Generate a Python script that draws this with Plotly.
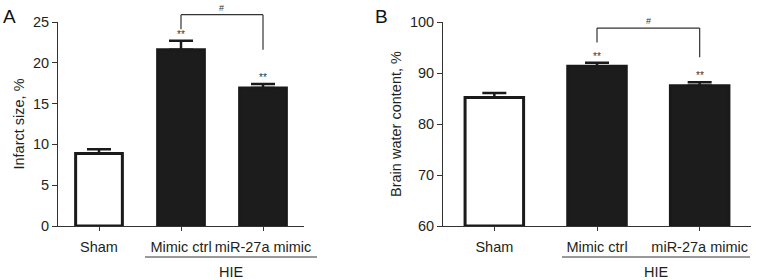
import plotly.graph_objects as go

# ---- data ----
categories = ["Sham", "Mimic ctrl", "miR-27a mimic"]
infarct_mean = [8.9, 21.6, 16.9]
infarct_err = [0.5, 1.1, 0.5]
water_mean = [85.2, 91.3, 87.5]
water_err = [0.9, 0.7, 0.7]
infarct_stars = ["", "**", "**"]
water_stars = ["", "**", "**"]
# bracket levels (data units): top, left-leg end, right-leg end
infarct_bracket = [25.9, 24.1, 21.6]
water_bracket = [98.8, 96.0, 93.1]
group_label = "HIE"

W, H = 763, 280
ydom = [1 - 226 / H, 1 - 22 / H]
xdomA = [58 / W, 304 / W]
xdomB = [443 / W, 751 / W]
xr = [-0.5, 2.5]
yrA = [0, 25]
yrB = [60, 100]
txt = "#231f20"
FONT = "Liberation Sans, Arial, sans-serif"
FS = 14.5

fig = go.Figure()


def px_x(dom, v):
    return dom[0] + (v - xr[0]) / (xr[1] - xr[0]) * (dom[1] - dom[0])


def px_y(rng, v):
    return ydom[0] + (v - rng[0]) / (rng[1] - rng[0]) * (ydom[1] - ydom[0])


def panel(means, errs, stars, bracket, xa, ya, xdom, yrng, letter, letter_x, hie_span):
    xs = list(range(len(categories)))
    fig.add_trace(go.Bar(
        x=xs, y=[m - yrng[0] for m in means], base=[yrng[0]] * len(means),
        width=0.57,
        marker=dict(color=["white", "#1c1c1c", "#1c1c1c"],
                    line=dict(color="#1a1a1a", width=3)),
        error_y=dict(type="data", array=errs, arrayminus=[0] * len(errs), symmetric=False,
                     color="#1a1a1a", thickness=2.5, width=12),
        xaxis=xa, yaxis=ya, showlegend=False, hoverinfo="skip",
    ))
    # stars
    for i, s in enumerate(stars):
        if s:
            fig.add_annotation(x=px_x(xdom, i), y=px_y(yrng, means[i] + errs[i]),
                               xref="paper", yref="paper", text=s, showarrow=False,
                               xanchor="center", yanchor="bottom", yshift=-1,
                               font=dict(size=10, color="#333333", family=FONT))
    # bracket
    top, lend, rend = bracket
    xl, xrp = px_x(xdom, 1), px_x(xdom, 2)
    yt = px_y(yrng, top)
    line = dict(color="#333", width=1.2)
    fig.add_shape(type="line", xref="paper", yref="paper", x0=xl, x1=xrp, y0=yt, y1=yt, line=line)
    fig.add_shape(type="line", xref="paper", yref="paper", x0=xl, x1=xl, y0=yt, y1=px_y(yrng, lend), line=line)
    fig.add_shape(type="line", xref="paper", yref="paper", x0=xrp, x1=xrp, y0=yt, y1=px_y(yrng, rend), line=line)
    fig.add_annotation(x=(xl + xrp) / 2, y=yt, xref="paper", yref="paper", text="#",
                       showarrow=False, xanchor="center", yanchor="bottom", yshift=0,
                       font=dict(size=9, color="#333333", family=FONT))
    # group line + label
    x0, x1 = hie_span[0] / W, hie_span[1] / W
    yl = 1 - 257 / H
    fig.add_shape(type="line", xref="paper", yref="paper", x0=x0, x1=x1, y0=yl, y1=yl,
                  line=dict(color="#333", width=1))
    fig.add_annotation(x=(x0 + x1) / 2, y=1 - 272 / H, xref="paper", yref="paper",
                       text=group_label, showarrow=False, xanchor="center", yanchor="middle",
                       font=dict(size=FS, color=txt, family=FONT))
    # panel letter
    fig.add_annotation(x=letter_x / W, y=1 - 16 / H, xref="paper", yref="paper", text=letter,
                       showarrow=False, xanchor="center", yanchor="middle",
                       font=dict(size=19, color="#111", family=FONT))


panel(infarct_mean, infarct_err, infarct_stars, infarct_bracket, "x", "y", xdomA, yrA,
      "A", 9, (145, 317))
panel(water_mean, water_err, water_stars, water_bracket, "x2", "y2", xdomB, yrB,
      "B", 381, (562, 750))

axis_common = dict(showline=True, linecolor="#333", linewidth=1, ticks="outside",
                   tickcolor="#333", showgrid=False, zeroline=False, automargin=False,
                   tickfont=dict(size=FS, color=txt, family=FONT))

fig.update_layout(
    width=W, height=H, margin=dict(l=0, r=0, t=0, b=0, autoexpand=False),
    paper_bgcolor="white", plot_bgcolor="white",
    font=dict(family=FONT, color=txt),
    xaxis=dict(domain=xdomA, range=xr, tickvals=[0, 1, 2], ticktext=categories,
               ticklen=4, ticklabelstandoff=4, anchor="y", **axis_common),
    yaxis=dict(domain=ydom, range=yrA, tickvals=[0, 5, 10, 15, 20, 25], ticklen=5,
               anchor="x", title=dict(text="Infarct size, %", font=dict(size=FS, color=txt, family=FONT), standoff=4),
               **axis_common),
    xaxis2=dict(domain=xdomB, range=xr, tickvals=[0, 1, 2], ticktext=categories,
                ticklen=4, ticklabelstandoff=4, anchor="y2", **axis_common),
    yaxis2=dict(domain=ydom, range=yrB, tickvals=[60, 70, 80, 90, 100], ticklen=5,
                anchor="x2", title=dict(text="Brain water content, %", font=dict(size=FS, color=txt, family=FONT), standoff=4),
                **axis_common),
)

fig.write_html("out.html", config={"displayModeBar": False},
               post_script="document.body.style.margin='0px';document.body.style.overflow='hidden';")
